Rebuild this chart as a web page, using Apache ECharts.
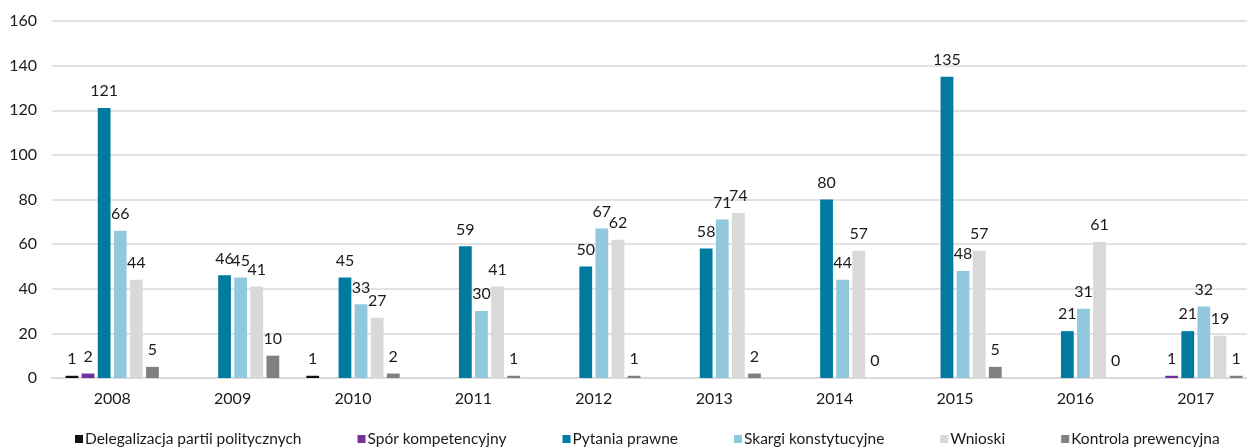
<!DOCTYPE html>
<html>
<head>
<meta charset="utf-8">
<script src="https://cdn.jsdelivr.net/npm/echarts@6/dist/echarts.min.js"></script>
<style>
  html, body { margin: 0; padding: 0; background: #ffffff; overflow: hidden; }
  /* the plot runs a few px past the right edge of the window, like in the source */
  #chart { width: 1256px; height: 447px; }
</style>
</head>
<body>
<div id="chart"></div>
<script>
// lata
var years = ['2008', '2009', '2010', '2011', '2012', '2013', '2014', '2015', '2016', '2017'];

// wartości serii (null = brak słupka)
var delegalizacja = [1, null, 1, null, null, null, null, null, null, null];
var sporKompetencyjny = [2, null, null, null, null, null, null, null, null, 1];
var pytaniaPrawne = [121, 46, 45, 59, 50, 58, 80, 135, 21, 21];
var skargiKonstytucyjne = [66, 45, 33, 30, 67, 71, 44, 48, 31, 32];
var wnioski = [44, 41, 27, 41, 62, 74, 57, 57, 61, 19];
var kontrolaPrewencyjna = [5, 10, 2, 1, 1, 2, 0, 5, 0, 1];

var seriesNames = [
  'Delegalizacja partii politycznych',
  'Spór kompetencyjny',
  'Pytania prawne',
  'Skargi konstytucyjne',
  'Wnioski',
  'Kontrola prewencyjna'
];
var seriesData = [delegalizacja, sporKompetencyjny, pytaniaPrawne, skargiKonstytucyjne, wnioski, kontrolaPrewencyjna];
var colors = ['#111111', '#7030A0', '#007A9E', '#92C8DE', '#D9D9D9', '#808080'];

var chart = echarts.init(document.getElementById('chart'));

var series = seriesNames.map(function (name, i) {
  return {
    name: name,
    type: 'bar',
    data: seriesData[i],
    barGap: '26%',
    barCategoryGap: '22.5%',
    itemStyle: { color: colors[i] },
    label: {
      show: true,
      position: 'top',
      distance: 9,
      color: '#1a1a1a',
      fontFamily: 'Lato',
      fontSize: 16
    }
  };
});

var option = {
  backgroundColor: '#ffffff',
  animation: false,
  color: colors,
  textStyle: { fontFamily: 'Lato' },
  legend: {
    data: seriesNames,
    left: 70,
    top: 426,
    itemWidth: 8,
    itemHeight: 8,
    itemGap: 56,
    icon: 'rect',
    textStyle: { fontFamily: 'Lato', fontSize: 15.5, color: '#1a1a1a', padding: [0, 0, 0, -3] }
  },
  grid: {
    left: 52,
    right: 0,
    top: 21,
    bottom: 69,
    containLabel: false
  },
  xAxis: {
    type: 'category',
    data: years,
    axisLine: { lineStyle: { color: '#D9D9D9', width: 2 } },
    axisTick: { show: false },
    axisLabel: { fontFamily: 'Lato', fontSize: 16, color: '#1a1a1a', margin: 13 }
  },
  yAxis: {
    type: 'value',
    min: 0,
    max: 160,
    interval: 20,
    axisLine: { show: false },
    axisTick: { show: false },
    axisLabel: { fontFamily: 'Lato', fontSize: 16, color: '#1a1a1a', margin: 15 },
    splitLine: { lineStyle: { color: '#D9D9D9', width: 1.5 } }
  },
  series: series
};

chart.setOption(option);
</script>
</body>
</html>
